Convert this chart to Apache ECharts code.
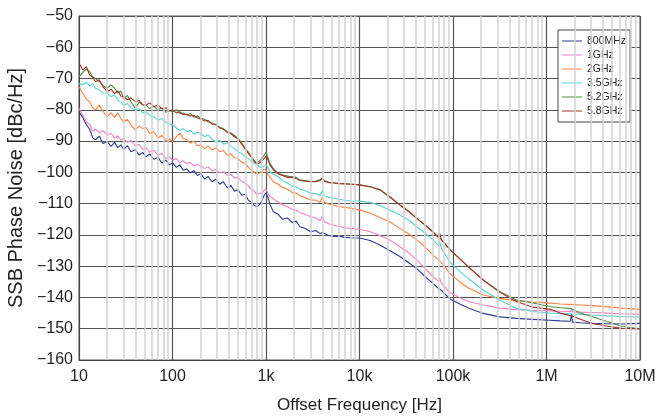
<!DOCTYPE html>
<html>
<head>
<meta charset="utf-8">
<script src="https://cdn.jsdelivr.net/npm/echarts@6/dist/echarts.min.js"></script>
<style>
  html, body { margin: 0; padding: 0; background: #fff; }
  #chart { width: 661px; height: 417px; }
</style>
</head>
<body>
<div id="chart"></div>
<script>
// offset frequency [Hz]
var freqs = [
  10, 11, 12, 13, 14, 15, 16.5, 18, 20, 22, 24, 26, 28, 30, 33, 36, 40, 44, 48, 52, 57, 63, 70, 77, 85, 93,
  100, 110, 120, 130, 142, 155, 170, 185, 200, 220, 240, 265, 290, 320, 350, 385, 420, 460, 500, 550, 600, 650, 700, 750, 800, 850, 900, 950,
  1000, 1050, 1100, 1200, 1350, 1500, 1700, 1900, 2100, 2300, 2600, 3000, 3400, 3800, 4000, 4200, 4700, 5300, 6000, 7000, 8000,
  10000, 13000, 16500, 21000, 27000, 34000, 41000, 50000, 61000, 70000, 72000, 75000, 93000, 120000, 146000, 210000, 315000, 475000, 715000,
  1100000, 1400000, 1800000, 1850000, 1900000, 2300000, 3100000, 4500000, 6500000, 10000000
];

var noise800M = [
  -80.6, -82.5, -84.8, -86.2, -88.9, -89.6, -88.4, -90.8, -90.2, -91.7, -90.4, -92.1, -91.2, -92.6, -91.5, -93.4, -92.8, -94.5, -93.6, -95.0, -94.1, -95.8, -95.2, -97.0, -96.1, -97.6,
  -97.0, -98.4, -97.6, -99.3, -98.9, -100.2, -99.4, -101.0, -100.4, -102.1, -101.3, -103.0, -102.2, -103.8, -103.0, -104.9, -104.1, -106.0, -105.5, -107.3, -107.0, -109.0, -109.6, -110.6, -111.0, -110.4, -109.2, -107.5,
  -106.5, -108.0, -110.2, -112.6, -113.4, -115.0, -114.6, -116.0, -115.6, -117.4, -117.9, -119.0, -118.6, -119.6, -119.2, -119.8, -120.2, -120.5, -120.4, -120.8, -120.9,
  -121.0, -121.8, -123.2, -125.0, -126.9, -129.0, -130.8, -133.3, -135.5, -137.2, -137.3, -137.7, -140.5, -142.2, -143.4, -145.1, -146.2, -146.7, -147.0,
  -147.3, -147.5, -147.6, -145.3, -147.9, -148.1, -148.3, -148.4, -148.5, -148.3
];
var noise1G = [
  -79.5, -81.8, -83.9, -84.6, -86.8, -86.1, -87.4, -86.6, -88.2, -87.5, -89.0, -88.3, -89.7, -89.2, -90.4, -89.8, -91.6, -91.0, -92.7, -92.1, -93.5, -92.9, -94.6, -94.0, -95.6, -95.1,
  -96.0, -95.6, -96.9, -96.3, -97.2, -96.8, -98.0, -97.4, -97.9, -98.8, -98.2, -99.5, -99.0, -100.2, -99.8, -100.9, -100.6, -101.8, -101.6, -102.9, -103.5, -104.4, -105.6, -106.0, -107.2, -106.6, -106.9, -105.8,
  -105.4, -106.8, -107.6, -108.5, -109.5, -110.4, -111.0, -111.8, -112.1, -112.8, -113.4, -114.2, -114.6, -115.5, -114.0, -115.8, -116.4, -116.9, -117.3, -117.7, -117.9,
  -118.2, -119.0, -120.2, -121.6, -123.8, -125.8, -128.0, -130.6, -133.3, -134.8, -133.8, -135.4, -138.4, -140.2, -141.3, -142.4, -143.4, -143.9, -144.1,
  -144.3, -144.4, -144.5, -143.8, -144.6, -144.7, -144.8, -145.0, -145.2, -145.4
];
var noise2G = [
  -72.6, -74.8, -76.6, -77.4, -79.3, -80.0, -78.5, -80.4, -82.2, -81.0, -82.4, -81.0, -82.8, -83.8, -83.0, -85.0, -86.4, -85.2, -86.0, -85.6, -87.6, -87.0, -89.0, -88.2, -89.8, -89.4,
  -90.2, -88.6, -87.5, -89.2, -89.6, -90.6, -90.0, -91.5, -91.3, -92.4, -91.6, -92.8, -92.2, -93.4, -93.0, -94.6, -94.0, -95.4, -95.5, -96.8, -97.1, -98.4, -99.2, -100.0, -100.8, -100.2, -99.6, -99.0,
  -99.2, -100.6, -101.6, -103.0, -103.8, -104.8, -105.4, -106.4, -106.7, -107.5, -108.0, -108.8, -108.9, -109.6, -107.9, -109.6, -110.1, -110.5, -110.9, -111.2, -111.5,
  -112.0, -113.1, -114.4, -115.8, -117.9, -119.8, -121.6, -123.8, -126.4, -128.0, -127.6, -128.8, -132.4, -135.2, -137.0, -139.2, -140.3, -141.0, -141.5,
  -141.8, -142.1, -142.2, -141.8, -142.3, -142.4, -142.6, -143.0, -143.4, -143.8
];
var noise3G5 = [
  -71.6, -72.0, -71.2, -72.4, -71.6, -73.1, -73.6, -74.6, -74.7, -75.8, -75.2, -76.8, -77.6, -78.5, -78.0, -79.4, -80.0, -79.6, -81.0, -80.6, -81.8, -82.2, -83.3, -82.8, -84.0, -84.5,
  -84.8, -85.8, -86.6, -86.0, -87.0, -86.6, -87.8, -87.2, -87.5, -88.6, -88.0, -89.4, -90.2, -89.8, -91.0, -90.6, -91.6, -92.4, -93.4, -94.0, -95.0, -95.6, -96.6, -97.0, -97.6, -98.2, -98.6, -98.0,
  -97.6, -98.6, -99.8, -100.6, -101.4, -102.6, -103.4, -104.4, -104.6, -105.4, -105.8, -106.7, -106.8, -107.4, -105.8, -107.5, -108.0, -108.3, -108.6, -108.9, -109.1,
  -109.2, -109.6, -110.6, -112.0, -113.6, -115.4, -117.4, -119.4, -121.6, -123.4, -122.2, -124.2, -128.8, -131.8, -134.0, -137.6, -140.8, -143.5, -144.5,
  -145.0, -145.1, -145.2, -144.7, -145.3, -145.4, -145.6, -145.9, -146.1, -146.3
];
var noise5G2 = [
  -69.4, -68.0, -66.9, -67.8, -69.5, -70.0, -71.0, -72.2, -73.1, -72.0, -73.1, -74.6, -74.0, -76.4, -75.4, -77.4, -79.5, -77.6, -78.4, -78.5, -79.6, -78.8, -80.0, -79.4, -80.8, -80.2,
  -80.6, -80.0, -81.2, -81.0, -81.7, -81.2, -82.4, -82.0, -82.7, -83.0, -83.8, -84.2, -84.9, -85.6, -86.0, -87.0, -87.4, -88.2, -89.1, -90.6, -92.3, -93.6, -95.0, -96.2, -97.1, -96.4, -95.6, -94.6,
  -93.6, -95.2, -97.1, -98.8, -100.3, -100.8, -101.2, -101.4, -101.6, -102.4, -102.6, -102.9, -102.8, -102.4, -101.8, -102.6, -103.2, -103.3, -103.5, -103.6, -103.7,
  -104.0, -104.6, -105.5, -107.8, -110.4, -112.6, -114.7, -116.8, -119.0, -120.8, -120.8, -121.4, -124.8, -127.8, -130.2, -134.4, -138.1, -140.8, -141.8,
  -142.9, -143.3, -143.5, -143.6, -143.8, -145.0, -146.2, -147.8, -149.3, -150.0
];
var noise5G8 = [
  -65.1, -67.3, -66.2, -68.9, -69.6, -71.0, -70.4, -72.6, -74.2, -73.4, -74.8, -74.0, -75.6, -75.8, -76.8, -76.2, -77.4, -77.0, -78.4, -78.5, -77.8, -79.0, -78.5, -79.6, -79.4, -80.4,
  -80.0, -81.0, -80.6, -81.6, -81.4, -82.0, -81.8, -82.6, -82.9, -83.6, -83.4, -84.6, -84.6, -85.8, -86.2, -87.2, -87.6, -88.6, -89.3, -91.0, -92.6, -94.0, -95.2, -96.6, -97.3, -97.0, -96.4, -95.6,
  -94.8, -96.0, -97.6, -99.2, -100.5, -101.0, -101.6, -101.6, -102.0, -102.6, -102.8, -103.0, -103.0, -102.6, -101.9, -102.8, -103.3, -103.4, -103.6, -103.7, -103.8,
  -104.0, -104.6, -105.6, -107.8, -110.4, -112.6, -114.7, -116.8, -119.0, -120.9, -119.4, -121.5, -124.8, -127.8, -130.2, -134.4, -138.3, -141.3, -143.1,
  -143.8, -145.0, -145.8, -145.9, -146.0, -147.0, -148.3, -149.2, -149.9, -150.1
];

var seriesNames = ['800MHz', '1GHz', '2GHz', '3.5GHz', '5.2GHz', '5.8GHz'];
var seriesColors = ['#2e3a8f', '#ee82c6', '#fb8040', '#55d4d0', '#4e8a3e', '#a0342a'];
var seriesValues = [noise800M, noise1G, noise2G, noise3G5, noise5G2, noise5G8];

var xTickLabels = ['10', '100', '1k', '10k', '100k', '1M', '10M'];

// light grid lines at 2..9 of every decade
var minorLines = [];
for (var d = 10; d < 1e7; d *= 10) {
  for (var m = 2; m <= 9; m++) minorLines.push({ xAxis: m * d });
}

var font = '"Liberation Sans", Arial, Helvetica, sans-serif';

var series = seriesNames.map(function (name, k) {
  return {
    name: name,
    type: 'line',
    symbol: 'none',
    z: 3,
    lineStyle: { width: 1.1, color: seriesColors[k] },
    itemStyle: { color: seriesColors[k] },
    data: freqs.map(function (f, i) { return [f, seriesValues[k][i]]; })
  };
});
series.unshift({
  type: 'line',
  data: [],
  z: 1,
  silent: true,
  markLine: {
    silent: true,
    symbol: ['none', 'none'],
    animation: false,
    label: { show: false },
    lineStyle: { color: '#d2d2d2', width: 1.5, type: 'solid' },
    emphasis: { disabled: true },
    data: minorLines
  }
});

var chart = echarts.init(document.getElementById('chart'));
chart.setOption({
  animation: false,
  backgroundColor: '#fff',
  textStyle: { fontFamily: font },
  grid: {
    left: 79, right: 21, top: 16, bottom: 57,
    outerBoundsMode: 'none',
    show: true, borderColor: '#555', borderWidth: 1
  },
  legend: {
    data: seriesNames,
    orient: 'vertical',
    left: 558,
    top: 30,
    icon: 'rect',
    itemWidth: 20,
    itemHeight: 1,
    itemGap: 2,
    padding: [5, 4, 5, 4],
    backgroundColor: '#fff',
    borderColor: '#444',
    borderWidth: 1,
    borderRadius: 0,
    textStyle: { fontSize: 10.5, color: '#222', fontFamily: font, lineHeight: 12 }
  },
  xAxis: {
    type: 'log',
    logBase: 10,
    min: 10,
    max: 1e7,
    interval: 1,
    name: 'Offset Frequency [Hz]',
    nameLocation: 'middle',
    nameGap: 37,
    nameTextStyle: { fontSize: 17, color: '#222', fontFamily: font },
    axisLine: { lineStyle: { color: '#444', width: 1 } },
    axisTick: { show: false },
    axisLabel: {
      fontSize: 16, color: '#222', margin: 9, fontFamily: font,
      formatter: function (v) { return xTickLabels[Math.round(Math.log10(v)) - 1]; }
    },
    splitLine: { show: true, lineStyle: { color: '#555', width: 1.2 } }
  },
  yAxis: {
    type: 'value',
    min: -160,
    max: -50,
    interval: 10,
    name: 'SSB Phase Noise [dBc/Hz]',
    nameLocation: 'middle',
    nameGap: 45,
    nameTextStyle: { fontSize: 20, color: '#222', fontFamily: font },
    axisLine: { show: true, lineStyle: { color: '#444', width: 1 } },
    axisTick: { show: false },
    axisLabel: {
      fontSize: 16, color: '#222', margin: 6, fontFamily: font,
      formatter: function (v) { return String(v).replace('-', '\u2212'); }
    },
    splitLine: { show: true, lineStyle: { color: '#555', width: 1.2 } }
  },
  series: series
});
</script>
</body>
</html>
